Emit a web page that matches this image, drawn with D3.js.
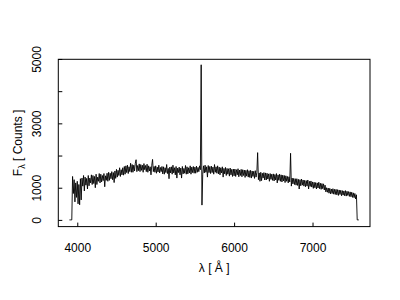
<!DOCTYPE html>
<html>
<head>
<meta charset="utf-8">
<script src="https://cdn.jsdelivr.net/npm/d3@7"></script>
<style>
  body { margin: 0; background: #fff; }
  text { font-family: "Liberation Sans", Arial, Helvetica, sans-serif; }
</style>
</head>
<body>
<div id="chart"></div>
<script>
// spectrum sampling (start wavelength and step, in Angstrom)
const lambdaStart = 3900;
const lambdaStep = 10;

// flux in counts, one row per 100 A
const flux = [
  0, 0, 0, 0, 1350, 820, 1250, 560, 1150, 700,
  1200, 500, 1100, 470, 1280, 620, 1300, 1050, 1380, 900,
  1330, 1080, 1290, 960, 1380, 1060, 1300, 1150, 1400, 1100,
  1380, 1130, 1350, 1000, 1420, 1100, 1330, 1200, 1440, 1150,
  1420, 1180, 1380, 1220, 1440, 1030, 1370, 1230, 1450, 1200,
  1480, 1230, 1450, 1280, 1500, 1250, 1470, 1160, 1520, 1290,
  1570, 1330, 1540, 1380, 1620, 1350, 1560, 1400, 1620, 1390,
  1660, 1420, 1680, 1470, 1700, 1440, 1650, 1500, 1760, 1480,
  1720, 1480, 1700, 1520, 1760, 1870, 1500, 1690, 1530, 1740,
  1500, 1720, 1540, 1700, 1480, 1750, 1560, 1690, 1500, 1730,
  1480, 1680, 1520, 1650, 1400, 1700, 1880, 1500, 1660, 1480,
  1680, 1450, 1640, 1490, 1700, 1460, 1630, 1500, 1660, 1430,
  1650, 1420, 1620, 1470, 1720, 1440, 1600, 1280, 1640, 1460,
  1650, 1420, 1700, 1460, 1620, 1400, 1660, 1300, 1610, 1470,
  1640, 1400, 1610, 1300, 1660, 1430, 1600, 1450, 1690, 1420,
  1650, 1430, 1620, 1460, 1680, 1420, 1640, 1470, 1660, 1450,
  1640, 1450, 1670, 1480, 1630, 1500, 1680, 1560, 4820, 460,
  1420, 1680, 1460, 1700, 1480, 1650, 1330, 1690, 1470, 1660,
  1440, 1670, 1470, 1640, 1420, 1720, 1480, 1650, 1450, 1680,
  1430, 1640, 1400, 1620, 1460, 1650, 1330, 1600, 1430, 1630,
  1380, 1600, 1420, 1590, 1360, 1610, 1400, 1570, 1350, 1580,
  1370, 1580, 1350, 1560, 1400, 1590, 1340, 1550, 1380, 1570,
  1340, 1560, 1380, 1550, 1320, 1540, 1360, 1560, 1330, 1530,
  1320, 1540, 1300, 1520, 1350, 1510, 1290, 1530, 1330, 1480,
  2090, 1250, 1460, 1200, 1480, 1220, 1450, 1300, 1470, 1240,
  1460, 1240, 1450, 1270, 1430, 1200, 1440, 1260, 1420, 1230,
  1430, 1210, 1410, 1240, 1440, 1150, 1400, 1230, 1420, 1200,
  1400, 1180, 1390, 1210, 1380, 1160, 1370, 1200, 1350, 1150,
  1340, 1180, 2070, 1050, 1300, 1120, 1290, 1100, 1280, 1080,
  1280, 1070, 1260, 960, 1250, 1060, 1270, 1080, 1240, 1050,
  1230, 1030, 1220, 1050, 1240, 960, 1200, 1040, 1210, 1020,
  1180, 980, 1170, 1000, 1160, 960, 1150, 990, 1170, 970,
  1140, 950, 1130, 970, 1120, 930, 1080, 870, 1000, 860,
  990, 830, 980, 810, 960, 820, 970, 800, 950, 790,
  950, 780, 940, 760, 930, 790, 920, 750, 910, 770,
  900, 750, 910, 740, 890, 760, 880, 730, 870, 720,
  860, 700, 840, 690, 820, 650, 780, 0, 0, 0
];

const xTicks = [4000, 5000, 6000, 7000];
const yTicks = [0, 1000, 2000, 3000, 4000, 5000];
const yLabelled = [0, 1000, 3000, 5000];

// plot region, R style margins
const margin = { top: 59.3, right: 30, bottom: 73.4, left: 58.3 };
const W = 400;
const H = 300;

const svg = d3
  .select("#chart")
  .append("svg")
  .attr("width", W)
  .attr("height", H);

const x = d3
  .scaleLinear()
  .domain([3758, 7733])
  .range([margin.left, W - margin.right]);

const y = d3
  .scaleLinear()
  .domain([-208, 4990])
  .range([H - margin.bottom, margin.top]);

const points = flux.map(function(f, i) {
  return { lambda: lambdaStart + i * lambdaStep, flux: f };
});

// spectrum
const line = d3
  .line()
  .x(function(d) { return x(d.lambda); })
  .y(function(d) { return y(d.flux); });

svg
  .append("path")
  .datum(points)
  .attr("d", line)
  .attr("fill", "none")
  .attr("stroke", "#000")
  .attr("stroke-width", 0.9);

// x axis, ticks pointing inward
const gx = svg
  .append("g")
  .attr("transform", `translate(0, ${H - margin.bottom})`)
  .call(
    d3.axisBottom(x)
      .tickValues(xTicks)
      .tickSizeInner(-4)
      .tickSizeOuter(0)
      .tickFormat(d3.format("d"))
  );
gx.select(".domain").remove();
gx.selectAll("text")
  .attr("y", 25.7)
  .attr("dy", null)
  .attr("font-size", 12)
  .attr("font-family", null)
  .attr("fill", "#000");

// y axis, labels parallel to the axis
const gy = svg
  .append("g")
  .attr("transform", `translate(${margin.left}, 0)`)
  .call(
    d3.axisLeft(y)
      .tickValues(yTicks)
      .tickSizeInner(-4)
      .tickSizeOuter(0)
      .tickFormat(function(d) {
        return yLabelled.indexOf(d) >= 0 ? d : "";
      })
  );
gy.select(".domain").remove();
gy.selectAll("text")
  .attr("x", null)
  .attr("dy", null)
  .attr("text-anchor", "middle")
  .attr("transform", "translate(-17, 0) rotate(-90)")
  .attr("font-size", 12)
  .attr("font-family", null)
  .attr("fill", "#000");

// frame
svg
  .append("rect")
  .attr("x", margin.left)
  .attr("y", margin.top)
  .attr("width", W - margin.left - margin.right)
  .attr("height", H - margin.top - margin.bottom)
  .attr("fill", "none")
  .attr("stroke", "#000")
  .attr("stroke-width", 1);

// axis titles
const midX = (margin.left + W - margin.right) / 2;
const midY = (margin.top + H - margin.bottom) / 2;

svg
  .append("text")
  .attr("x", midX)
  .attr("y", 272)
  .attr("text-anchor", "middle")
  .attr("font-size", 12)
  .text("λ [ Å ]");

const ytitle = svg
  .append("text")
  .attr("text-anchor", "middle")
  .attr("font-size", 12)
  .attr("transform", `translate(21.5, ${midY}) rotate(-90)`);
ytitle.append("tspan").text("F");
ytitle
  .append("tspan")
  .attr("font-size", 9)
  .attr("dy", 3)
  .text("λ");
ytitle
  .append("tspan")
  .attr("dy", -3)
  .text(" [ Counts ]");
</script>
</body>
</html>
